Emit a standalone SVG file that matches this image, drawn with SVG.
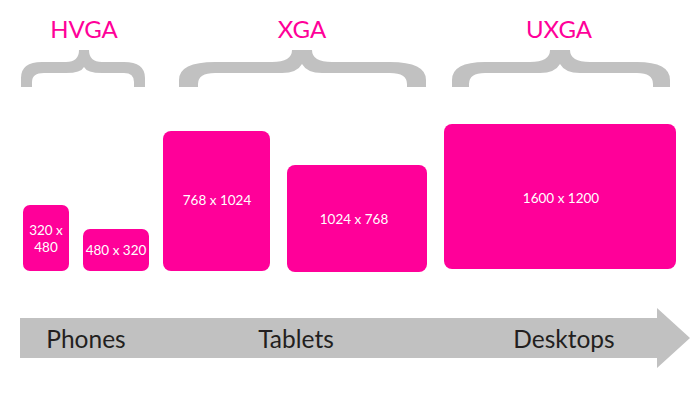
<svg xmlns="http://www.w3.org/2000/svg" width="700" height="400" viewBox="0 0 700 400">
<style>
.brace{fill:#c1c1c1}
.title{font-family:Lato,"Noto Sans",sans-serif;font-size:24px;fill:#ff0099;text-anchor:middle}
.box{fill:#ff0099}
.lbl{font-family:Lato,"Noto Sans",sans-serif;font-size:13.5px;fill:#ffffff;text-anchor:middle}
.cat{font-family:Lato,"Noto Sans",sans-serif;font-size:24.5px;fill:#231f20;text-anchor:middle}
</style>
<rect width="700" height="400" fill="#ffffff"/>
<g id="hvga">
<text class="title" x="84" y="38">HVGA</text>
<path class="brace" d="M21 87 V78 Q21 62 42 62 H66 Q79 62 79 50 H89 Q89 62 102 62 H124 Q145 62 145 78 V87 H134 V82 Q134 73 124 73 H102 Q87 73 84 67 Q81 73 66 73 H44 Q32 73 32 82 V87 Z"/>
</g>
<g id="xga">
<text class="title" x="302" y="38">XGA</text>
<path class="brace" d="M179 87 V80 Q179 62 215 62 H272 Q292 62 292 50 H312 Q312 62 332 62 H390 Q426 62 426 80 V87 H407 V84 Q407 73 390 73 H322 Q307 73 302 64 Q297 73 282 73 H215 Q198 73 198 84 V87 Z"/>
</g>
<g id="uxga">
<text class="title" x="559" y="38">UXGA</text>
<path class="brace" d="M452 87 V80 Q452 62 485 62 H530 Q550 62 550 50 H570 Q570 62 590 62 H637 Q670 62 670 80 V87 H653 V84 Q653 73 637 73 H580 Q565 73 560 64 Q555 73 540 73 H485 Q469 73 469 84 V87 Z"/>
</g>
<g id="box320x480">
<rect class="box" x="23" y="205" width="46" height="66" rx="7"/>
<text class="lbl" x="46" y="235">320 x</text>
<text class="lbl" x="46" y="252">480</text>
</g>
<g id="box480x320">
<rect class="box" x="83" y="229" width="66" height="42" rx="7"/>
<text class="lbl" x="116" y="255">480 x 320</text>
</g>
<g id="box768x1024">
<rect class="box" x="163" y="131" width="107" height="140" rx="8"/>
<text class="lbl" x="217" y="205">768 x 1024</text>
</g>
<g id="box1024x768">
<rect class="box" x="287" y="165" width="140" height="107" rx="8"/>
<text class="lbl" x="354" y="224">1024 x 768</text>
</g>
<g id="box1600x1200">
<rect class="box" x="444" y="124" width="232" height="145" rx="8"/>
<text class="lbl" x="561" y="203">1600 x 1200</text>
</g>
<g id="connectors">
<path id="arrow" d="M20 318 H657 V308 L690 338 L657 368 V358 H20 Z" fill="#c1c1c1"/>
</g>
<g id="categories">
<text class="cat" x="86" y="348">Phones</text>
<text class="cat" x="296" y="348">Tablets</text>
<text class="cat" x="564" y="348">Desktops</text>
</g>
</svg>
